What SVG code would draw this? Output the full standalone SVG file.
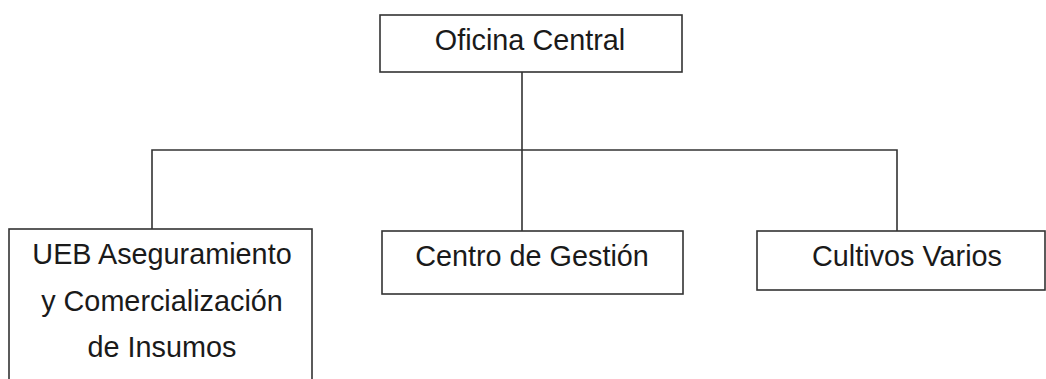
<svg xmlns="http://www.w3.org/2000/svg" width="1046" height="379" viewBox="0 0 1046 379">
<style>
.box{fill:#fff;stroke:#333;stroke-width:1.6}
.lbl{font-family:"Liberation Sans",Arial,sans-serif;font-size:28.8px;fill:#1a1a1a;text-anchor:middle}
.con{fill:none;stroke:#333;stroke-width:1.6}
</style>
<rect width="1046" height="379" fill="#fff"/>
<g id="connectors">
<line class="con" x1="522" y1="72" x2="522" y2="231"/>
<polyline class="con" points="152,229 152,150 897,150 897,231"/>
</g>
<g id="oficina-central">
<rect class="box" x="380" y="15" width="302" height="57"/>
<text class="lbl" x="530" y="50">Oficina Central</text>
</g>
<g id="ueb">
<rect class="box" x="9" y="229" width="303" height="160"/>
<text class="lbl" x="162" y="264">UEB Aseguramiento</text>
<text class="lbl" x="162" y="310.5">y Comercialización</text>
<text class="lbl" x="162" y="357">de Insumos</text>
</g>
<g id="centro-gestion">
<rect class="box" x="382" y="231" width="301" height="63"/>
<text class="lbl" x="532" y="266">Centro de Gestión</text>
</g>
<g id="cultivos-varios">
<rect class="box" x="757" y="231" width="288" height="59"/>
<text class="lbl" x="907" y="266">Cultivos Varios</text>
</g>
</svg>
